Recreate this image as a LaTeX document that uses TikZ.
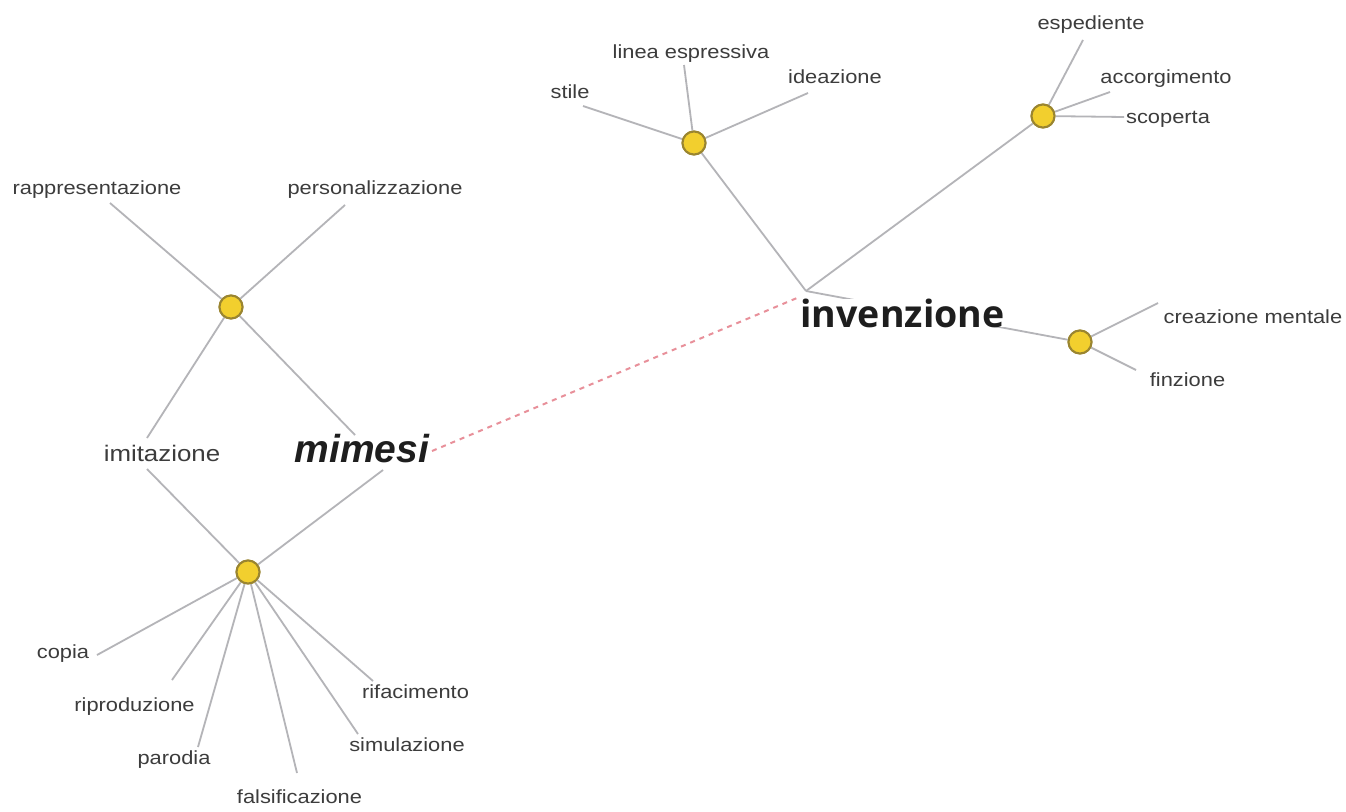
\documentclass[tikz,border=0pt]{standalone}
\usepackage{fontspec}
\newfontfamily\labfont[FakeStretch=1.15]{Liberation Sans}
\newfontfamily\mimfont{Liberation Sans}
\newfontfamily\invfont{Open Sans}
\definecolor{linegray}{HTML}{B4B4B8}
\definecolor{hubfill}{HTML}{F2CF2E}
\definecolor{hubdraw}{HTML}{9A8530}
\definecolor{labcol}{HTML}{3C3C3C}
\definecolor{titcol}{HTML}{1E1E1E}
\definecolor{dashcol}{HTML}{E8909A}
\tikzset{
  lab/.style={anchor=base, inner sep=0pt, text=labcol, font=\labfont\fontsize{19}{22}\selectfont},
  hub/.style={circle, fill=hubfill, draw=hubdraw, line width=2pt, minimum size=23pt, inner sep=0pt},
  conn/.style={draw=linegray, line width=1.8pt},
  link/.style={draw=dashcol, line width=2pt, dash pattern=on 5pt off 5pt}
}
\begin{document}
\begin{tikzpicture}[x=1pt, y=-1pt]
\useasboundingbox (0,0) rectangle (1346,811);
\fill[white] (0,0) rectangle (1346,811);

% hubs
\node[hub] (N1) at (231,307) {};
\node[hub] (N2) at (248,572) {};
\node[hub] (N3) at (694,143) {};
\node[hub] (N4) at (1043,116) {};
\node[hub] (N5) at (1080,342) {};
\coordinate (J) at (806,291);

% connector ends
\coordinate (eRapp) at (110,203);
\coordinate (ePers) at (345,205);
\coordinate (eImitT) at (147,438);
\coordinate (eImitB) at (147,469);
\coordinate (eMimT) at (355,435);
\coordinate (eMimB) at (383,470);
\coordinate (eCopia) at (97,655);
\coordinate (eRipr) at (172,680);
\coordinate (eParo) at (198,747);
\coordinate (eFals) at (297,773);
\coordinate (eSimu) at (358,734);
\coordinate (eRifa) at (373,681);
\coordinate (eStile) at (583,106);
\coordinate (eLinea) at (684,65);
\coordinate (eIdea) at (808,93);
\coordinate (eEspe) at (1083,40);
\coordinate (eAcco) at (1110,92);
\coordinate (eScop) at (1124,117);
\coordinate (eCrea) at (1158,303);
\coordinate (eFinz) at (1136,370);
\coordinate (eDashA) at (432,451);
\coordinate (eDashB) at (797,298);

% connectors
\path[conn] (N1) -- (eRapp);
\path[conn] (N1) -- (ePers);
\path[conn] (N1) -- (eImitT);
\path[conn] (N1) -- (eMimT);
\path[conn] (eImitB) -- (N2);
\path[conn] (eMimB) -- (N2);
\path[conn] (N2) -- (eCopia);
\path[conn] (N2) -- (eRipr);
\path[conn] (N2) -- (eParo);
\path[conn] (N2) -- (eFals);
\path[conn] (N2) -- (eSimu);
\path[conn] (N2) -- (eRifa);
\path[conn] (N3) -- (eStile);
\path[conn] (N3) -- (eLinea);
\path[conn] (N3) -- (eIdea);
\path[conn] (N3) -- (J);
\path[conn] (J) -- (N4);
\path[conn] (N4) -- (eEspe);
\path[conn] (N4) -- (eAcco);
\path[conn] (N4) -- (eScop);
\path[conn] (J) -- (N5);
\path[conn] (N5) -- (eCrea);
\path[conn] (N5) -- (eFinz);
\path[link] (eDashA) -- (eDashB);

% redraw hubs on top
\node[hub] at (N1) {};
\node[hub] at (N2) {};
\node[hub] at (N3) {};
\node[hub] at (N4) {};
\node[hub] at (N5) {};

% labels
\node[lab] (rapp) at (97,194) {rappresentazione};
\node[lab] (pers) at (375,194) {personalizzazione};
\node[lab, font=\labfont\fontsize{22.5}{26}\selectfont] (imit) at (162,461) {imitazione};
\node[anchor=base, inner sep=0pt, text=titcol, font=\mimfont\bfseries\itshape\fontsize{39}{44}\selectfont] (mimesi) at (362,462) {mimesi};
\node[lab] (copia) at (63,658) {copia};
\node[lab] (ripr) at (134.5,711) {riproduzione};
\node[lab] (paro) at (174,764) {parodia};
\node[lab] (fals) at (299.5,803) {falsificazione};
\node[lab] (simu) at (407,751) {simulazione};
\node[lab] (rifa) at (415.5,698) {rifacimento};
\node[lab] (stile) at (570,98) {stile};
\node[lab] (linea) at (691,58) {linea espressiva};
\node[lab] (idea) at (835,83) {ideazione};
\node[lab] (espe) at (1091,29) {espediente};
\node[lab] (acco) at (1166,83) {accorgimento};
\node[lab] (scop) at (1168,123) {scoperta};
\node[lab] (crea) at (1253,323) {creazione mentale};
\node[lab] (finz) at (1187.5,386) {finzione};
\node[anchor=base, inner sep=0pt, fill=white, text=titcol, font=\invfont\bfseries\fontsize{37.5}{42}\selectfont] (inv) at (902.5,327) {invenzione};
\end{tikzpicture}
\end{document}
